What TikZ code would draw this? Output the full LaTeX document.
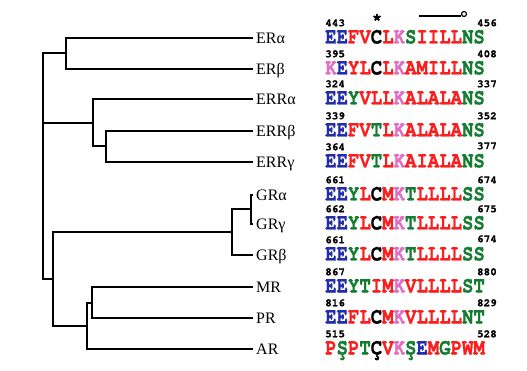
\documentclass[tikz,border=0pt]{standalone}
\usepackage{fontspec}
\setmainfont{Liberation Serif}
\newfontfamily\seqfont{texgyrecursor}[Extension=.otf, UprightFont=*-bold, BoldFont=*-bold, FakeBold=1.2]

\definecolor{seqblue}{RGB}{35,45,170}
\definecolor{seqred}{RGB}{250,30,30}
\definecolor{seqgreen}{RGB}{20,125,50}
\definecolor{seqpink}{RGB}{225,110,195}

\newcommand{\sqb}[1]{\textcolor{seqblue}{#1}}
\newcommand{\sqr}[1]{\textcolor{seqred}{#1}}
\newcommand{\sqg}[1]{\textcolor{seqgreen}{#1}}
\newcommand{\sqp}[1]{\textcolor{seqpink}{#1}}
\newcommand{\sqk}[1]{\textcolor{black}{#1}}
\newcommand{\seqrow}[1]{\scalebox{1}[1.2]{#1}}

\tikzset{
        branch/.style={line width=1.2pt},
        leaf/.style={anchor=west, inner xsep=3pt, inner ysep=0pt, text height=10.6pt, text depth=0pt, font=\fontsize{16}{16}\selectfont},
        seq/.style={anchor=west, inner sep=0pt, text height=13pt, text depth=0pt, font=\seqfont\fontsize{19}{19}\selectfont},
        resnum/.style={inner sep=0pt, text height=6.5pt, text depth=0pt, font=\seqfont\fontsize{11}{11}\selectfont}
}

\begin{document}
\begin{tikzpicture}[x=1pt,y=-1pt]
        \useasboundingbox (0,0) rectangle (527,371);

        \node[leaf] (era) at (253,38) {ERα};
        \node[leaf] (erb) at (253,69) {ERβ};
        \node[leaf] (erra) at (253,99) {ERRα};
        \node[leaf] (errb) at (253,131) {ERRβ};
        \node[leaf] (errg) at (253,162) {ERRγ};
        \node[leaf] (gra) at (253,195) {GRα};
        \node[leaf] (grg) at (253,224) {GRγ};
        \node[leaf] (grb) at (253,255) {GRβ};
        \node[leaf] (mr) at (253,287) {MR};
        \node[leaf] (pr) at (253,318) {PR};
        \node[leaf] (ar) at (253,349) {AR};

        \coordinate (root) at (43,183);
        \coordinate (nes) at (43,88);
        \coordinate (ner) at (66,53);
        \coordinate (nerr) at (93,123);
        \coordinate (nerrbg) at (106,146);
        \coordinate (nsr) at (53,279);
        \coordinate (ngr) at (232,232);
        \coordinate (ngrag) at (251,209);
        \coordinate (nmpa) at (87,326);
        \coordinate (nmp) at (92,303);

        \draw[branch] (root) |- (nes);
        \draw[branch] (root) |- (nsr);
        \draw[branch] (nes) |- (ner);
        \draw[branch] (nes) |- (nerr);
        \draw[branch] (ner) |- (era.west);
        \draw[branch] (ner) |- (erb.west);
        \draw[branch] (nerr) |- (erra.west);
        \draw[branch] (nerr) |- (nerrbg);
        \draw[branch] (nerrbg) |- (errb.west);
        \draw[branch] (nerrbg) |- (errg.west);
        \draw[branch] (nsr) |- (ngr);
        \draw[branch] (nsr) |- (nmpa);
        \draw[branch] (ngr) |- (ngrag);
        \draw[branch] (ngr) |- (grb.west);
        \draw[branch] (ngrag) |- (gra.west);
        \draw[branch] (ngrag) |- (grg.west);
        \draw[branch] (nmpa) |- (nmp);
        \draw[branch] (nmpa) |- (ar.west);
        \draw[branch] (nmp) |- (mr.west);
        \draw[branch] (nmp) |- (pr.west);

        \node[seq] (sera) at (325,37) {\seqrow{\sqb{EE}\sqr{FV}\sqk{C}\sqr{L}\sqp{K}\sqg{S}\sqr{IILL}\sqg{NS}}};
        \node[seq] (serb) at (325,68) {\seqrow{\sqp{K}\sqb{E}\sqr{YL}\sqk{C}\sqr{L}\sqp{K}\sqr{AMILL}\sqg{NS}}};
        \node[seq] (serra) at (325,98) {\seqrow{\sqb{EE}\sqg{Y}\sqr{VLL}\sqp{K}\sqr{ALALA}\sqg{NS}}};
        \node[seq] (serrb) at (325,130) {\seqrow{\sqb{EE}\sqr{FV}\sqg{T}\sqr{L}\sqp{K}\sqr{ALALA}\sqg{NS}}};
        \node[seq] (serrg) at (325,161) {\seqrow{\sqb{EE}\sqr{FV}\sqg{T}\sqr{L}\sqp{K}\sqr{AIALA}\sqg{NS}}};
        \node[seq] (sgra) at (325,194) {\seqrow{\sqb{EE}\sqg{Y}\sqr{L}\sqk{C}\sqr{M}\sqp{K}\sqg{T}\sqr{LLLL}\sqg{SS}}};
        \node[seq] (sgrg) at (325,223) {\seqrow{\sqb{EE}\sqg{Y}\sqr{L}\sqk{C}\sqr{M}\sqp{K}\sqg{T}\sqr{LLLL}\sqg{SS}}};
        \node[seq] (sgrb) at (325,254) {\seqrow{\sqb{EE}\sqg{Y}\sqr{L}\sqk{C}\sqr{M}\sqp{K}\sqg{T}\sqr{LLLL}\sqg{SS}}};
        \node[seq] (smr) at (325,286) {\seqrow{\sqb{EE}\sqg{YT}\sqr{IM}\sqp{K}\sqr{VLLLL}\sqg{ST}}};
        \node[seq] (spr) at (325,317) {\seqrow{\sqb{EE}\sqr{FL}\sqk{C}\sqr{M}\sqp{K}\sqr{VLLLL}\sqg{NT}}};
        \node[seq] (sar) at (325,348) {\seqrow{\sqr{P}\sqg{Ş}\sqr{P}\sqg{T}\sqk{Ç}\sqr{V}\sqp{K}\sqg{Ş}\sqb{E}\sqr{M}\sqg{G}\sqr{PWM}}};

        \node[resnum, anchor=west] (fera) at (325,23) {443};
        \node[resnum, anchor=east] (lera) at (497,23) {456};
        \node[resnum, anchor=west] (ferb) at (325,54) {395};
        \node[resnum, anchor=east] (lerb) at (497,54) {408};
        \node[resnum, anchor=west] (ferra) at (325,84) {324};
        \node[resnum, anchor=east] (lerra) at (497,84) {337};
        \node[resnum, anchor=west] (ferrb) at (325,116) {339};
        \node[resnum, anchor=east] (lerrb) at (497,116) {352};
        \node[resnum, anchor=west] (ferrg) at (325,147) {364};
        \node[resnum, anchor=east] (lerrg) at (497,146) {377};
        \node[resnum, anchor=west] (fgra) at (325,180) {661};
        \node[resnum, anchor=east] (lgra) at (497,180) {674};
        \node[resnum, anchor=west] (fgrg) at (325,209) {662};
        \node[resnum, anchor=east] (lgrg) at (497,209) {675};
        \node[resnum, anchor=west] (fgrb) at (325,240) {661};
        \node[resnum, anchor=east] (lgrb) at (497,239) {674};
        \node[resnum, anchor=west] (fmr) at (325,272) {867};
        \node[resnum, anchor=east] (lmr) at (497,272) {880};
        \node[resnum, anchor=west] (fpr) at (325,303) {816};
        \node[resnum, anchor=east] (lpr) at (497,303) {829};
        \node[resnum, anchor=west] (far) at (325,334) {515};
        \node[resnum, anchor=east] (lar) at (497,334) {528};

        \node[font=\seqfont\fontsize{17}{17}\selectfont, inner sep=0pt] (star) at (377,19) {*};
        \coordinate (helix) at (419,16);
        \node[circle, draw, line width=1.2pt, minimum size=5pt, inner sep=0pt] (hend) at (464,14) {};
        \draw[line width=1.6pt] (helix) -- (hend.west |- helix) -- ++(-1,0);
\end{tikzpicture}
\end{document}
